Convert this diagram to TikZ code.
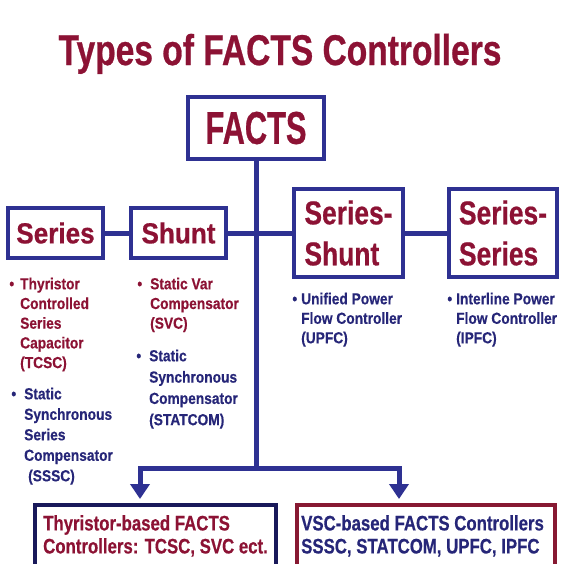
\documentclass[tikz,border=0pt]{standalone}
\usepackage{fontspec}
\setmainfont{Liberation Sans}
\newfontfamily\fTitle{Liberation Sans}[FakeStretch=0.78,FakeBold=0.6]
\newfontfamily\fFacts{Liberation Sans}[FakeStretch=0.67,FakeBold=0.6]
\newfontfamily\fSmall{Liberation Sans}[FakeStretch=0.90,FakeBold=0.6]
\newfontfamily\fMid{Liberation Sans}[FakeStretch=0.80,FakeBold=0.6]
\newfontfamily\fBul{Liberation Sans}[FakeStretch=0.86,FakeBold=0.4]
\newfontfamily\fBot{Liberation Sans}[FakeStretch=0.80,FakeBold=0.5]
\usetikzlibrary{arrows.meta}
\definecolor{tred}{RGB}{140,18,52}
\definecolor{lnavy}{RGB}{46,49,146}
\definecolor{tblue}{RGB}{38,38,120}
\definecolor{bnavy}{RGB}{25,25,90}
\definecolor{bred}{RGB}{135,25,50}
\tikzset{
  box/.style={draw=lnavy, line width=4pt, fill=white, inner sep=0pt, text=tred, align=left},
  conn/.style={draw=lnavy, line width=5pt},
  tip/.style={-{Triangle[width=19pt,length=15pt]}},
  bul/.style={anchor=north west, align=left, inner sep=0pt, font=\fBul\bfseries\fontsize{16}{19.7}\selectfont},
  bot/.style={anchor=north west, align=left, inner sep=0pt, font=\fBot\bfseries\fontsize{21}{23}\selectfont},
}
\begin{document}
\begin{tikzpicture}[x=1pt,y=-1pt]
\fill[white] (0,0) rectangle (564,563);
\clip (0,0) rectangle (564,563);
\useasboundingbox (0,0) rectangle (564,563);

\node[font=\fTitle\bfseries\fontsize{43}{43}\selectfont, text=tred, anchor=base, inner sep=0pt] (title) at (280,65) {Types of FACTS Controllers};

\node[box, minimum width=136pt, minimum height=62pt, font=\fFacts\bfseries\fontsize{46}{46}\selectfont] (facts) at (256,128) {FACTS};
\node[box, minimum width=95pt, minimum height=50pt, font=\fSmall\bfseries\fontsize{29}{29}\selectfont] (series) at (55.5,233) {Series};
\node[box, minimum width=95pt, minimum height=50pt, font=\fSmall\bfseries\fontsize{29}{29}\selectfont] (shunt) at (178.5,233) {Shunt};
\node[box, minimum width=109pt, minimum height=88pt, font=\fMid\bfseries\fontsize{33}{41}\selectfont] (sershunt) at (348.5,233) {Series-\\Shunt};
\node[box, minimum width=108pt, minimum height=88pt, font=\fMid\bfseries\fontsize{33}{41}\selectfont] (serser) at (503,233) {Series-\\Series};

\node[draw=bnavy, line width=3.5pt, fill=white, minimum width=241pt, minimum height=90pt, anchor=north west, inner sep=0pt] (tb) at (33,503) {};
\node[draw=bred, line width=3.5pt, fill=white, minimum width=258pt, minimum height=90pt, anchor=north west, inner sep=0pt] (vb) at (295,503) {};

\coordinate (j) at (256,468);
\coordinate (jl) at (140,468);
\coordinate (jr) at (399,468);

\draw[conn] (series.east) -- (shunt.west);
\draw[conn] (shunt.east) -- (sershunt.west);
\draw[conn] (sershunt.east) -- (serser.west);
\draw[conn] (facts.south) -- (j);
\draw[conn, tip] (j) -- (jl) -- ([yshift=4pt]tb.north -| jl);
\draw[conn, tip] (j) -- (jr) -- ([yshift=4pt]vb.north -| jr);

\node[bul, text=tred] (tcsc) at (20,277.5) {\llap{•\hspace{6pt}}Thyristor\\Controlled\\Series\\Capacitor\\(TCSC)};
\node[bul, text=tblue, font=\fBul\bfseries\fontsize{16}{20.5}\selectfont] (sssc) at (24,387.5) {\llap{•\hspace{8pt}}Static\\Synchronous\\Series\\Compensator\\\hspace*{4pt}(SSSC)};
\node[bul, text=tred] (svc) at (150,277.5) {\llap{•\hspace{8pt}}Static Var\\Compensator\\(SVC)};
\node[bul, text=tblue, font=\fBul\bfseries\fontsize{16}{21.3}\selectfont] (statcom) at (149,349.5) {\llap{•\hspace{8pt}}Static\\Synchronous\\Compensator\\(STATCOM)};
\node[bul, text=tblue, font=\fBul\bfseries\fontsize{16}{19.5}\selectfont] (upfc) at (301,292.5) {\llap{•\hspace{4pt}}Unified Power\\Flow Controller\\(UPFC)};
\node[bul, text=tblue, font=\fBul\bfseries\fontsize{16}{19.5}\selectfont] (ipfc) at (456,292.5) {\llap{•\hspace{4pt}}Interline Power\\Flow Controller\\(IPFC)};

\node[bot, text=tred] (tbtext) at (43,515) {Thyristor-based FACTS\\Controllers: TCSC, SVC ect.};
\node[bot, text=tblue] (vbtext) at (301,515) {VSC-based FACTS Controllers\\SSSC, STATCOM, UPFC, IPFC};
\end{tikzpicture}
\end{document}
